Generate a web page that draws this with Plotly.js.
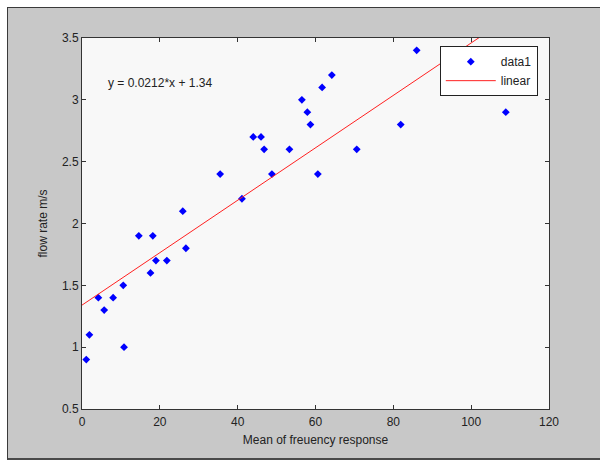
<!DOCTYPE html>
<html>
<head>
<meta charset="utf-8">
<script src="https://cdn.plot.ly/plotly-3.0.1.min.js"></script>
<style>
html, body { margin: 0; padding: 0; background: #ffffff; width: 600px; height: 462px; overflow: hidden; }
#frame { position: absolute; left: 7px; top: 7px; width: 593px; height: 453px; box-sizing: border-box;
  border-top: 1px solid #3a3a3a; border-left: 1px solid #3a3a3a; border-bottom: 2px solid #4a4a4a; background: #c8c8c8; }
#chart { width: 592px; height: 450px; }
</style>
</head>
<body>
<div id="frame"><div id="chart"></div></div>
<script>
// Data
const freqMean = [1.1, 1.9, 4.2, 5.7, 8.0, 10.6, 10.8, 14.6, 17.6, 18.2, 19.0, 21.8, 25.9, 26.7,
  35.5, 41.1, 44.0, 46.0, 46.8, 48.8, 53.3, 56.5, 57.9, 58.7, 60.6, 61.7, 64.2, 70.6, 81.9, 86.0, 108.9];
const flowRate = [0.9, 1.1, 1.4, 1.3, 1.4, 1.5, 1.0, 1.9, 1.6, 1.9, 1.7, 1.7, 2.1, 1.8,
  2.4, 2.2, 2.7, 2.7, 2.6, 2.4, 2.6, 3.0, 2.9, 2.8, 2.4, 3.1, 3.2, 2.6, 2.8, 3.4, 2.9];
// Linear fit line endpoints (y = 0.0212*x + 1.34)
const fitX = [0, 120];
const fitY = [1.34, 3.884];
const xTicks = [0, 20, 40, 60, 80, 100, 120];
const yTicks = [0.5, 1, 1.5, 2, 2.5, 3, 3.5];
const fitLabel = 'y = 0.0212*x + 1.34';

const font = { family: 'Liberation Sans, Arial, sans-serif', size: 12, color: '#222222' };

const traces = [
  { x: freqMean, y: flowRate, type: 'scatter', mode: 'markers', name: 'data1',
    marker: { symbol: 'diamond', size: 6, color: '#0000ff' } },
  { x: fitX, y: fitY, type: 'scatter', mode: 'lines', name: 'linear',
    line: { color: '#ff2020', width: 1 } }
];

const layout = {
  width: 592, height: 450,
  margin: { l: 74, r: 51, t: 30, b: 49 },
  paper_bgcolor: '#c8c8c8', plot_bgcolor: '#f8f8f8',
  font: font,
  showlegend: true,
  legend: { x: 0.976, y: 0.978, xanchor: 'right', yanchor: 'top', bgcolor: '#ffffff',
    bordercolor: '#222222', borderwidth: 1, font: font, tracegroupgap: 0, itemwidth: 50 },
  xaxis: { range: [0, 120], tickvals: xTicks, ticks: 'inside', ticklen: 4, tickcolor: '#333',
    showgrid: false, zeroline: false, showline: true, linecolor: '#333', linewidth: 1, mirror: 'ticks',
    ticklabelstandoff: 2,
    title: { text: 'Mean of freuency response', font: font, standoff: 7 } },
  yaxis: { range: [0.5, 3.5], tickvals: yTicks, ticks: 'inside', ticklen: 4, tickcolor: '#333',
    showgrid: false, zeroline: false, showline: true, linecolor: '#333', linewidth: 1, mirror: 'ticks',
    title: { text: 'flow rate m/s', font: font, standoff: 11 } },
  annotations: [
    { x: 6.2, y: 3.135, xref: 'x', yref: 'y', text: fitLabel, showarrow: false,
      xanchor: 'left', yanchor: 'middle', font: font }
  ]
};

Plotly.newPlot('chart', traces, layout, { displayModeBar: false, staticPlot: true });
</script>
</body>
</html>
